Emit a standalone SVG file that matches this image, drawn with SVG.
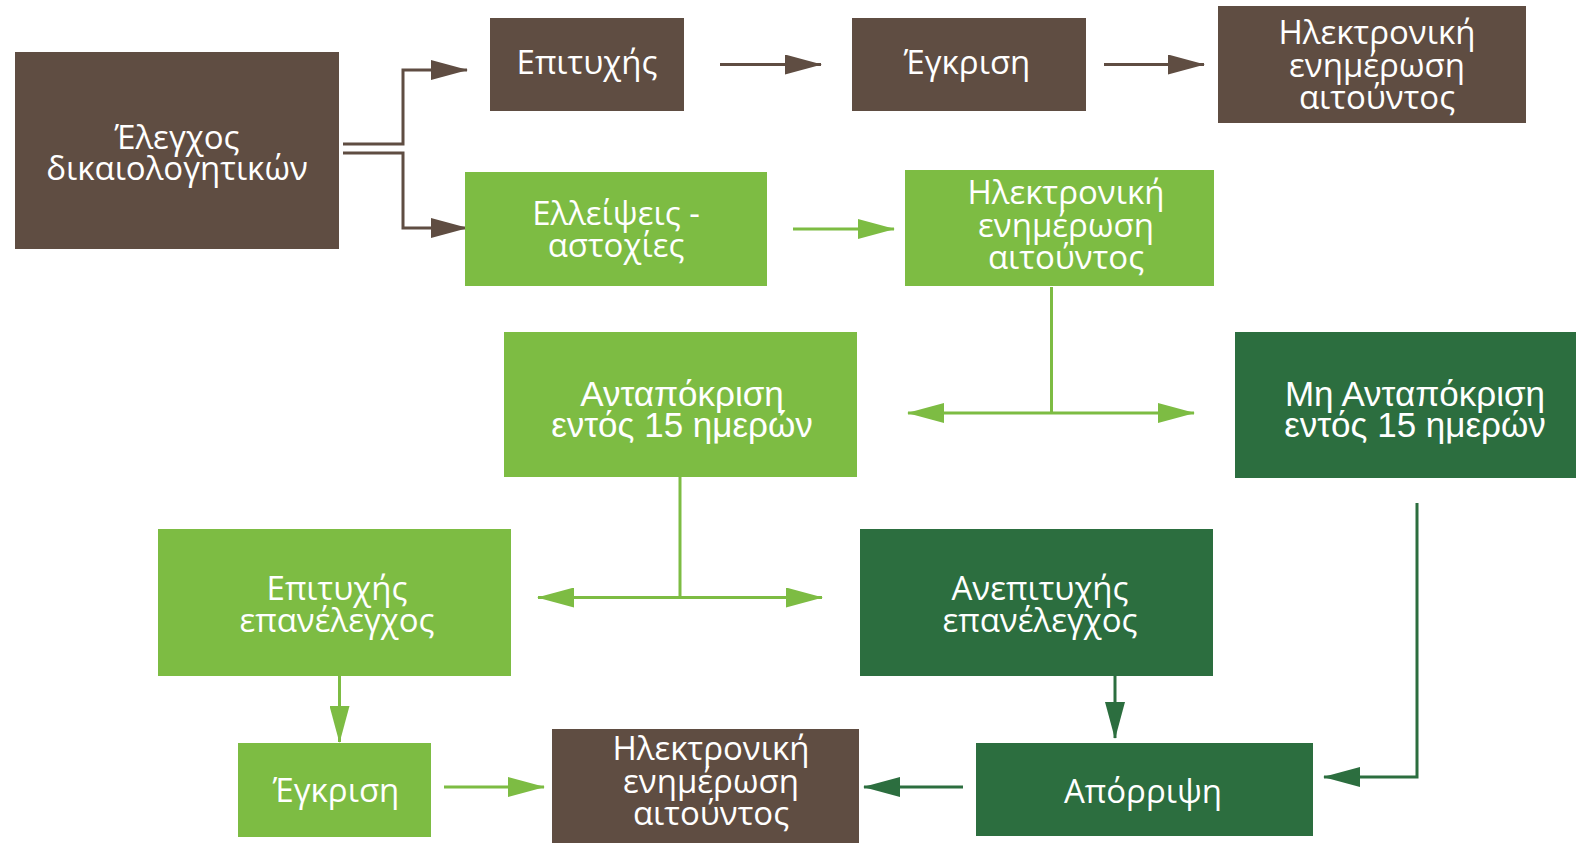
<svg xmlns="http://www.w3.org/2000/svg" width="1576" height="843" viewBox="0 0 1576 843">
<defs>
<style>
.brown{fill:#5f4d42}
.lg{fill:#7dbc43}
.dg{fill:#2c6e3f}
text{fill:#ffffff;text-anchor:middle}
.h{font-family:"Open Sans","Noto Sans","DejaVu Sans",sans-serif;font-size:33px}
.a{font-family:"Liberation Sans",Arial,sans-serif;font-size:35px}
.cb{fill:none;stroke:#5f4d42;stroke-width:3}
.cl{fill:none;stroke:#7dbc43;stroke-width:3}
.cd{fill:none;stroke:#2c6e3f;stroke-width:3}
</style>
<marker id="mb" markerUnits="userSpaceOnUse" markerWidth="37" markerHeight="20" refX="36" refY="10" orient="auto-start-reverse"><path d="M0,0 L37,10 L0,20 Z" fill="#5f4d42"/></marker>
<marker id="ml" markerUnits="userSpaceOnUse" markerWidth="37" markerHeight="20" refX="36" refY="10" orient="auto-start-reverse"><path d="M0,0 L37,10 L0,20 Z" fill="#7dbc43"/></marker>
<marker id="md" markerUnits="userSpaceOnUse" markerWidth="37" markerHeight="20" refX="36" refY="10" orient="auto-start-reverse"><path d="M0,0 L37,10 L0,20 Z" fill="#2c6e3f"/></marker>
</defs>
<rect width="1576" height="843" fill="#ffffff"/>
<g id="connectors">
<path class="cb" d="M343,144 H403 V70 H467" marker-end="url(#mb)"/>
<path class="cb" d="M343,153 H403 V228 H467" marker-end="url(#mb)"/>
<path class="cb" d="M720,64.5 H821" marker-end="url(#mb)"/>
<path class="cb" d="M1104,64.5 H1204" marker-end="url(#mb)"/>
<path class="cl" d="M793,229 H894" marker-end="url(#ml)"/>
<path class="cl" d="M1051.5,287 V413"/>
<path class="cl" d="M908,413 H1194" marker-start="url(#ml)" marker-end="url(#ml)"/>
<path class="cl" d="M680,477 V597.5"/>
<path class="cl" d="M538,597.5 H822" marker-start="url(#ml)" marker-end="url(#ml)"/>
<path class="cl" d="M339.5,676 V742" marker-end="url(#ml)"/>
<path class="cl" d="M444,787 H544" marker-end="url(#ml)"/>
<path class="cd" d="M1115,676 V738" marker-end="url(#md)"/>
<path class="cd" d="M963,787 H864" marker-end="url(#md)"/>
<path class="cd" d="M1417,503 V777 H1324" marker-end="url(#md)"/>
</g>
<g id="n1"><rect class="brown" x="15" y="52" width="324" height="197"/><text class="h"><tspan x="177" y="149">Έλεγχος</tspan><tspan x="177" y="180">δικαιολογητικών</tspan></text></g>
<g id="n2"><rect class="brown" x="490" y="18" width="194" height="93"/><text class="h" x="587" y="74">Επιτυχής</text></g>
<g id="n3"><rect class="brown" x="852" y="18" width="234" height="93"/><text class="h" x="967" y="74">Έγκριση</text></g>
<g id="n4"><rect class="brown" x="1218" y="6" width="308" height="117"/><text class="h"><tspan x="1377" y="44">Ηλεκτρονική</tspan><tspan x="1377" y="76.5">ενημέρωση</tspan><tspan x="1377" y="109">αιτούντος</tspan></text></g>
<g id="n5"><rect class="lg" x="465" y="172" width="302" height="114"/><text class="h"><tspan x="616" y="225">Ελλείψεις -</tspan><tspan x="616" y="257">αστοχίες</tspan></text></g>
<g id="n6"><rect class="lg" x="905" y="170" width="309" height="116"/><text class="h"><tspan x="1066" y="204">Ηλεκτρονική</tspan><tspan x="1066" y="236.5">ενημέρωση</tspan><tspan x="1066" y="269">αιτούντος</tspan></text></g>
<g id="n7"><rect class="lg" x="504" y="332" width="353" height="145"/><text class="a"><tspan x="682" y="406">Ανταπόκριση</tspan><tspan x="682" y="437">εντός 15 ημερών</tspan></text></g>
<g id="n8"><rect class="dg" x="1235" y="332" width="341" height="146"/><text class="a"><tspan x="1415" y="406">Μη Ανταπόκριση</tspan><tspan x="1415" y="437">εντός 15 ημερών</tspan></text></g>
<g id="n9"><rect class="lg" x="158" y="529" width="353" height="147"/><text class="h"><tspan x="337" y="600">Επιτυχής</tspan><tspan x="337" y="632">επανέλεγχος</tspan></text></g>
<g id="n10"><rect class="dg" x="860" y="529" width="353" height="147"/><text class="h"><tspan x="1040" y="600">Ανεπιτυχής</tspan><tspan x="1040" y="632">επανέλεγχος</tspan></text></g>
<g id="n11"><rect class="lg" x="238" y="743" width="193" height="94"/><text class="h" x="336" y="802">Έγκριση</text></g>
<g id="n12"><rect class="brown" x="552" y="729" width="307" height="114"/><text class="h"><tspan x="711" y="760">Ηλεκτρονική</tspan><tspan x="711" y="792.5">ενημέρωση</tspan><tspan x="711" y="825">αιτούντος</tspan></text></g>
<g id="n13"><rect class="dg" x="976" y="743" width="337" height="93"/><text class="h" x="1143" y="803">Απόρριψη</text></g>
</svg>
